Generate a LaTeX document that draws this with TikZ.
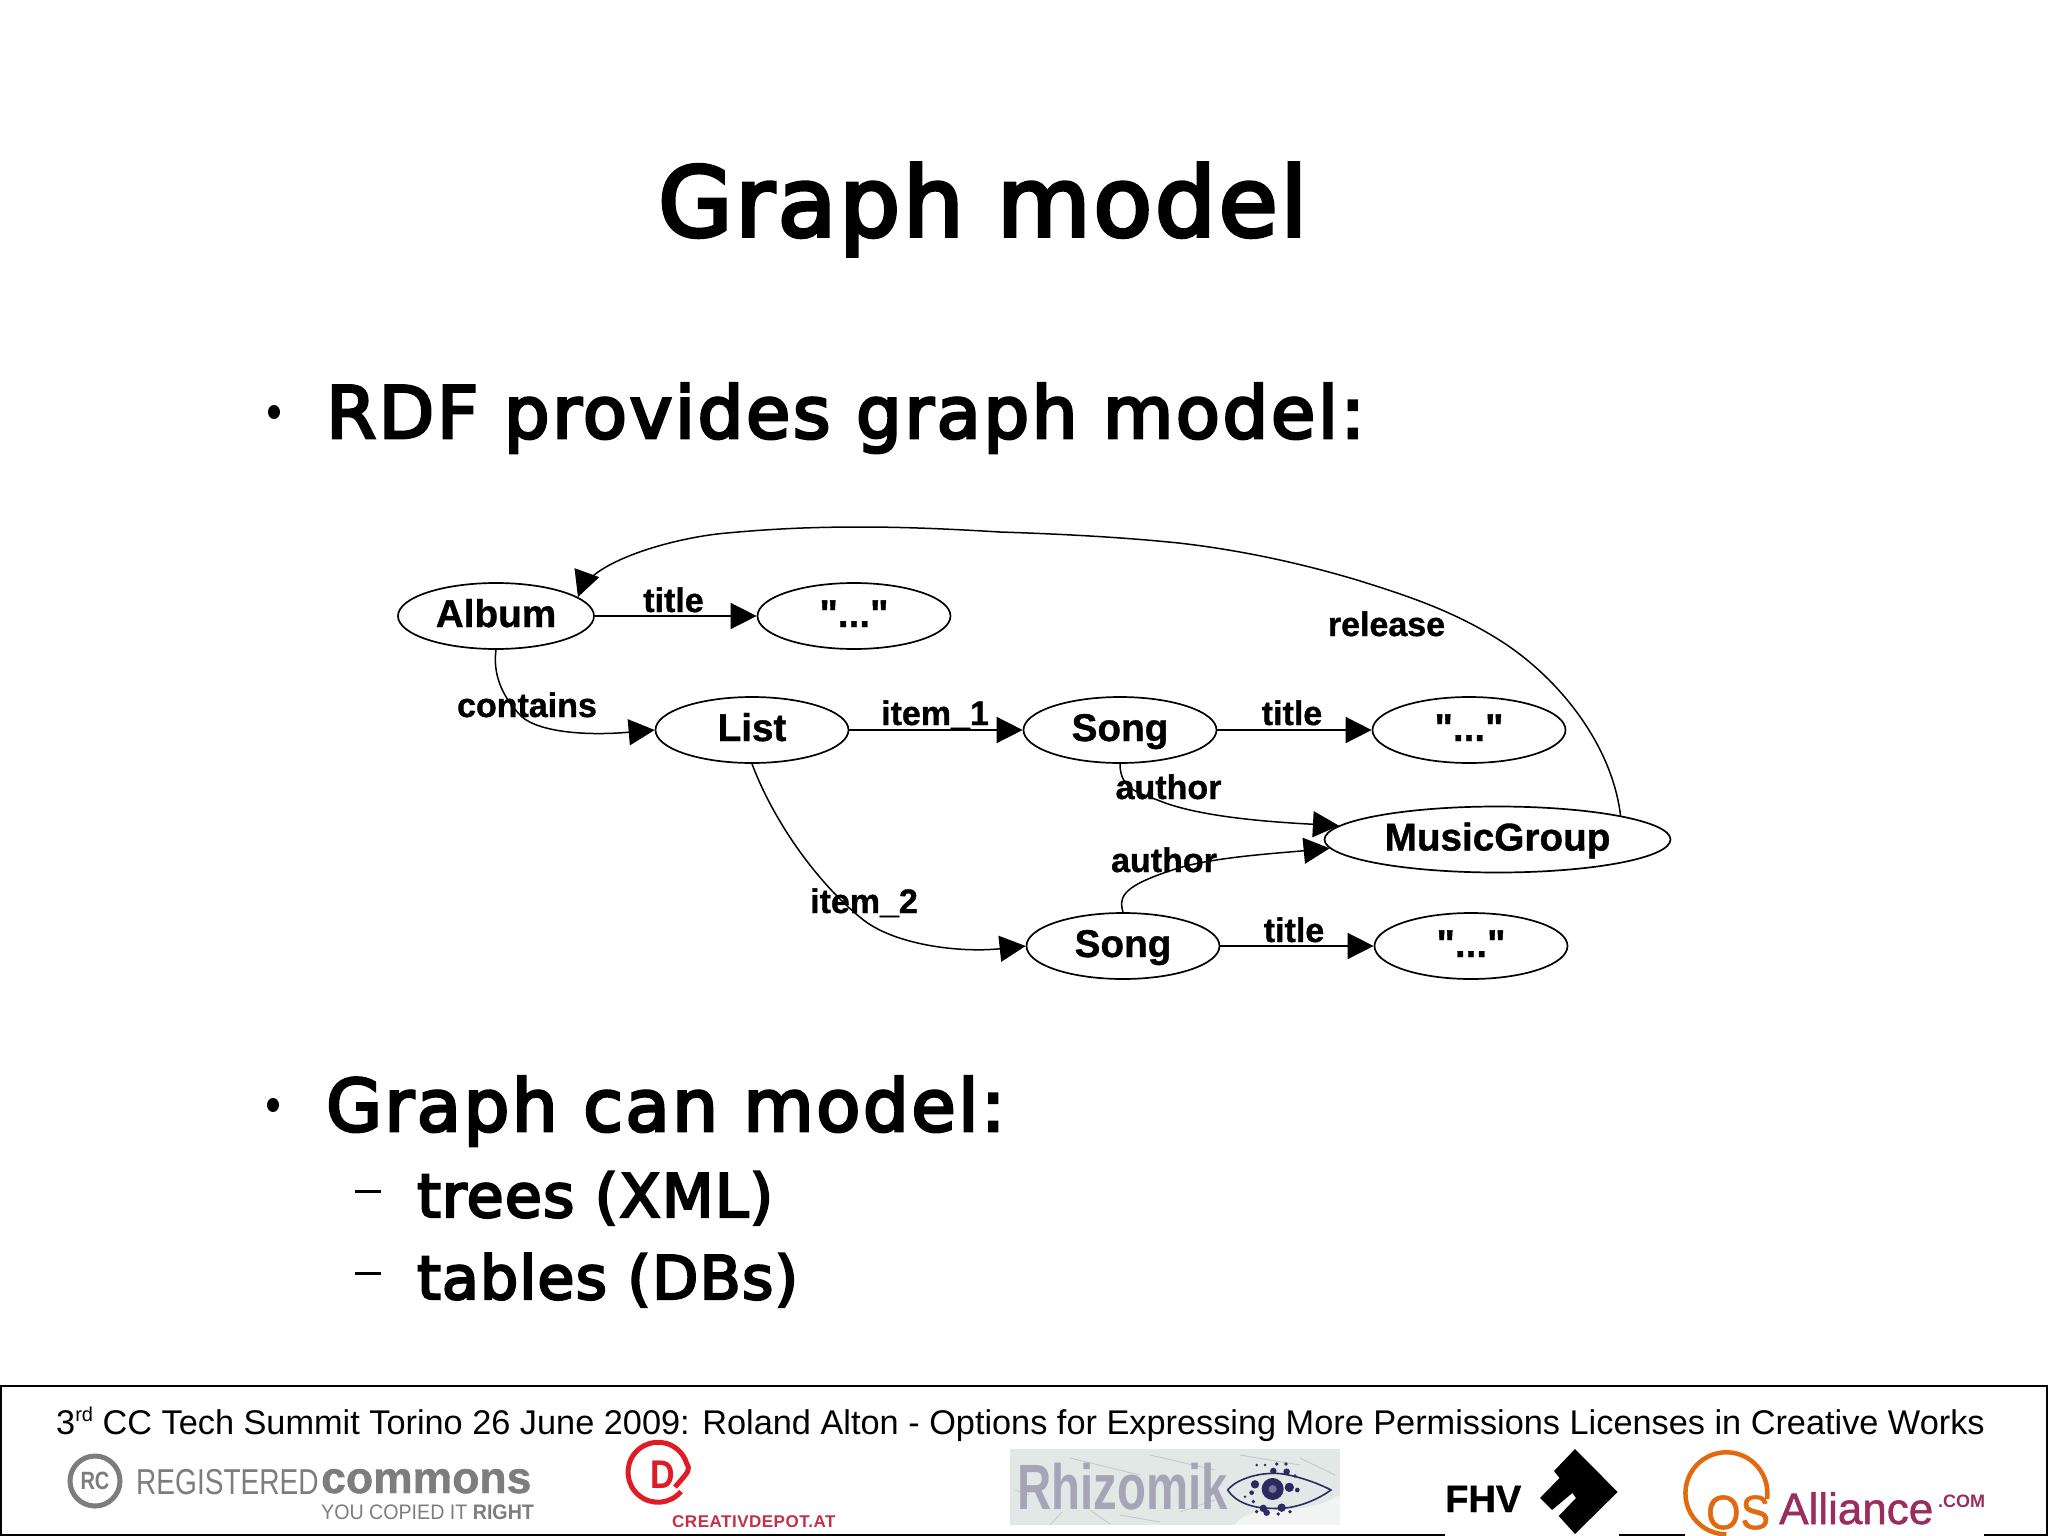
\documentclass[tikz,border=0pt]{standalone}
\usepackage{fontspec}
\usetikzlibrary{arrows.meta,shapes.geometric}
\setmainfont{Liberation Sans}
\newfontfamily\gfont[BoldFeatures={FakeBold=1}]{Liberation Sans}
\newfontfamily\logofont[FakeBold=1.2]{Liberation Sans}
\newfontfamily\titlefont[FakeBold=4,LetterSpace=2.9]{DejaVu Sans}
\newfontfamily\onefont[FakeBold=4,LetterSpace=3.7]{DejaVu Sans}
\newfontfamily\twofont[FakeBold=4,LetterSpace=2.2]{DejaVu Sans}
\newfontfamily\spacedfont[LetterSpace=3]{Liberation Sans}
\newcommand{\fsz}[1]{\fontsize{#1}{#1}\selectfont}
\definecolor{rcgray}{HTML}{7D7D7D}
\definecolor{cdred}{HTML}{DD1C26}
\definecolor{cdtext}{HTML}{C4304A}
\definecolor{rztext}{HTML}{A6A5B8}
\definecolor{rzback}{HTML}{E2E8E5}
\definecolor{rzeye}{HTML}{2B2B62}
\definecolor{osorange}{HTML}{E2690F}
\definecolor{ospurple}{HTML}{9B2C5E}
\tikzset{
  gnode/.style={draw=black,line width=1.7pt,fill=white,ellipse,inner sep=0pt,minimum height=66pt,minimum width=193pt,text height=22pt,text depth=0pt,font=\gfont\fsz{38.7}\bfseries},
  edge/.style={draw=black,line width=1.5pt,-{Triangle[length=26pt,width=26pt]}},
  elabel/.style={anchor=base,inner sep=0pt,font=\gfont\fsz{34}\bfseries},
  slidetitle/.style={anchor=base west,inner sep=0pt,font=\titlefont\fsz{96}},
  lvlone/.style={anchor=base west,inner sep=0pt,font=\onefont\fsz{72}},
  lvltwo/.style={anchor=base west,inner sep=0pt,font=\twofont\fsz{60}},
  logotext/.style={anchor=base west,inner sep=0pt},
}
\begin{document}
\begin{tikzpicture}[x=1pt,y=-1pt]
\useasboundingbox (0,0) rectangle (2048,1536);
\fill[white] (0,0) rectangle (2048,1536);
% slide text
\node[slidetitle] (ttl) at (658,236) {Graph model};
\fill[black] (274,412) ellipse [x radius=6,y radius=7];
\node[lvlone] (b1) at (326,438) {RDF provides graph model:};
\fill[black] (273,1105) ellipse [x radius=6,y radius=7];
\node[lvlone] (b2) at (326,1131) {Graph can model:};
\fill[black] (355,1190) rectangle (381,1192.5);
\node[lvltwo] (s1) at (417,1217) {trees (XML)};
\fill[black] (355,1272) rectangle (381,1274.5);
\node[lvltwo] (s2) at (417,1299) {tables (DBs)};
% graph nodes
\node[gnode,minimum width=196pt] (album) at (496,616) {Album};
\node[gnode] (q1) at (854,616) {"..."};
\node[gnode] (list) at (752,730) {List};
\node[gnode] (song1) at (1120,730) {Song};
\node[gnode] (q2) at (1469,730) {"..."};
\node[gnode,minimum width=346pt] (mg) at (1497.5,839.5) {MusicGroup};
\node[gnode] (song2) at (1123,946) {Song};
\node[gnode] (q3) at (1471,946) {"..."};
% edges
\draw[edge] (album.east) -- (q1.west);
\draw[edge] (list.east) -- (song1.west);
\draw[edge] (song1.east) -- (q2.west);
\draw[edge] (song2.east) -- (q3.west);
\draw[edge] (album.south) .. controls (493,672) and (500,695) .. (522,717) .. controls (540,732) and (585,736) .. (list.west);
\draw[edge] (list.south) .. controls (775,825) and (820,885) .. (861,918) .. controls (893,945) and (960,953) .. (song2.west);
\draw[edge] (song1.south) .. controls (1120,790) and (1140,793) .. (1160,801) .. controls (1200,817) and (1270,822) .. (mg.175.5);
\draw[edge] (song2.north) .. controls (1118,895) and (1125,885) .. (1178.6,868) .. controls (1215,857) and (1280,853) .. (mg.183.7);
\draw[edge] (mg.11) .. controls (1612,745) and (1560,680) .. (1504,643) .. controls (1455,611) and (1405,595) .. (1357,580) .. controls (1300,563) and (1240,550) .. (1178.6,543) .. controls (1120,537) and (1060,534) .. (1000,532) .. controls (950,529) and (905,527) .. (861,527) .. controls (810,527) and (770,529) .. (727,533) .. controls (690,536) and (630,550) .. (598,572) .. controls (590,578) and (582,586) .. (album.13.4);
% edge labels
\node[elabel] (l1) at (673.5,612) {title};
\node[elabel] (l2) at (527,717) {contains};
\node[elabel] (l3) at (935,725) {item\_1};
\node[elabel] (l4) at (864,913) {item\_2};
\node[elabel] (l5) at (1292,725) {title};
\node[elabel] (l6) at (1168.5,799) {author};
\node[elabel] (l7) at (1164,872) {author};
\node[elabel] (l8) at (1386.5,636) {release};
\node[elabel] (l9) at (1294,942) {title};
% footer
\draw[black,line width=2.5pt] (1,1535) -- (1,1386) -- (2047,1386) -- (2047,1535);
\draw[black,line width=2pt] (0,1535) -- (1445,1535) (1619,1535) -- (1685,1535) (1984,1535) -- (2048,1535);
\node[logotext,font=\fsz{34.3}] (ftr) at (56,1434) {3\raisebox{0.36em}{\fsz{20}rd} CC Tech Summit Torino 26 June 2009: Roland Alton - Options for Expressing More Permissions Licenses in Creative Works};
% Registered Commons
\node[draw=rcgray,line width=5pt,circle,minimum size=50pt,inner sep=0pt,text=rcgray,font=\fsz{25}\bfseries] (rc) at (95,1481) {\scalebox{0.8}[1]{RC}};
\node[logotext,text=rcgray,font=\fsz{36}] (rg) at (136,1494) {\scalebox{0.78}[1]{REGISTERED}};
\node[logotext,text=rcgray,font=\gfont\fsz{44.5}\bfseries] (cm) at (321,1493) {commons};
\node[logotext,text=rcgray,font=\fsz{21}] (yc) at (321,1519) {\scalebox{0.935}[1]{YOU COPIED IT \textbf{RIGHT}}};
% Creativdepot
\draw[cdred,line width=5pt] (681,1491.5) arc[start angle=-40,end angle=-343,radius=30pt] .. controls (690,1470) .. (675,1487);
\node[logotext,text=cdred,font=\fsz{40}\bfseries] (cd) at (650,1488) {\scalebox{0.85}[1]{D}};
\node[logotext,text=cdtext,font=\spacedfont\fsz{17}\bfseries] (ct) at (672,1527) {CREATIVDEPOT.AT};
% Rhizomik
\fill[rzback] (1010,1449) rectangle (1340,1525);
\fill[white,opacity=.55] (1235,1525) .. controls (1250,1500) and (1300,1520) .. (1340,1495) -- (1340,1525) -- cycle;
\foreach \ax/\ay/\bx/\by in {1070/1458/1140/1475,1050/1525/1062/1512,1150/1455/1215/1470,1015/1490/1030/1495,1120/1515/1160/1522,1240/1455/1300/1465,1300/1458/1335/1475,1090/1510/1110/1524,1180/1512/1215/1500}
  \draw[gray!45,line width=.8pt] (\ax,\ay) -- (\bx,\by);
\node[logotext,text=rztext,font=\fsz{64}\bfseries] (rz) at (1017,1509) {\scalebox{0.74}[1]{Rhizomik}};
\begin{scope}[shift={(1005,1440)},x=.3333pt,y=-.3333pt]
\draw[rzeye,line width=1.6pt] (668,150) .. controls (700,110) and (790,90) .. (850,105) .. controls (900,115) and (950,135) .. (978,150) .. controls (930,185) and (860,210) .. (800,205) .. controls (740,205) and (690,185) .. (668,150) -- cycle;
\fill[rzeye] (803,147) circle [radius=33];
\fill[white!35!rzeye] (803,147) circle [radius=12];
\foreach \px/\py/\pr in {750/133/9,853/142/10,877/150/5,740/158/5,720/170/3,745/185/4,775/205/8,830/203/9,855/215/4,755/215/4,785/218/7,820/222/4,755/75/3,780/75/3,815/72/4,843/72/4,805/93/7,845/95/7,870/108/4}
  \fill[rzeye] (\px,\py) circle [radius=1.4*\pr];
\end{scope}
% FHV
\node[logotext,font=\gfont\fsz{38}\bfseries] (fh) at (1445,1512) {FHV};
\fill[black] (1575,1449) -- (1617.6,1492) -- (1575,1534) -- (1558.7,1516) -- (1576,1498) -- (1572.4,1493) -- (1552,1510) -- (1540,1498) -- (1559.5,1478) -- (1554,1471) -- cycle;
% OS Alliance
\draw[osorange,line width=4.5pt] (1767,1499) arc[start angle=-8,end angle=270,radius=41pt];
\node[logotext,text=osorange,font=\logofont\fsz{48}] (os) at (1706,1529) {\scalebox{0.92}[1]{OS}};
\node[logotext,text=ospurple,font=\logofont\fsz{44}] (al) at (1779,1524) {Alliance};
\node[logotext,text=ospurple,font=\fsz{18}\bfseries] (cm2) at (1938,1507) {.COM};
\end{tikzpicture}
\end{document}
